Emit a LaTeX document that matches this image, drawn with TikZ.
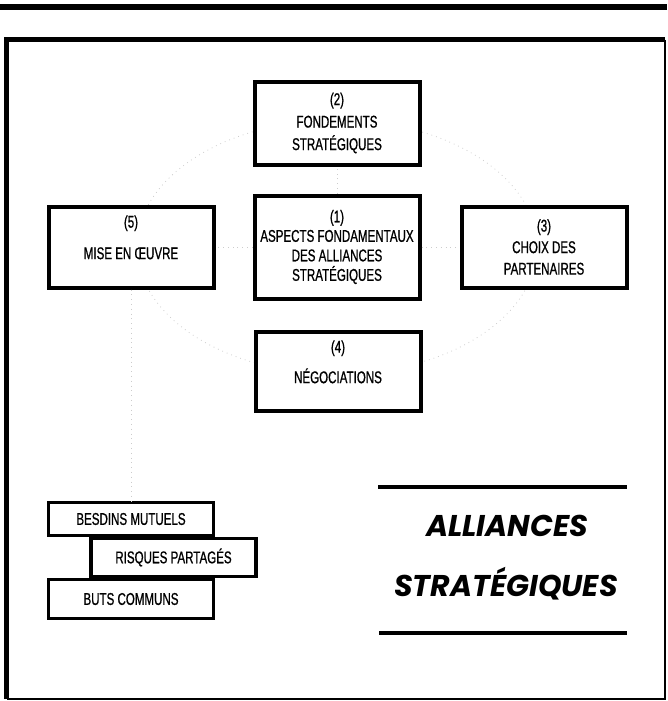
\documentclass[tikz,border=0pt]{standalone}
\usepackage{fontspec}
\setmainfont[FakeStretch=0.68, FakeBold=0.8]{Liberation Sans}
\newfontfamily\titrefont{Poppins}
\usetikzlibrary{positioning}

\begin{document}
\begin{tikzpicture}[x=1pt, y=-1pt, node distance=124pt,
        bloc/.style={draw, line width=4pt, fill=white, minimum width=165pt, minimum height=81pt,
                     align=center, inner sep=2pt, font=\fontsize{17}{21.5}\selectfont},
        brique/.style={draw, line width=3.5pt, fill=white, minimum width=165pt, inner sep=0pt,
                     font=\fontsize{17}{21}\selectfont},
        lien/.style={gray!40, line width=0.8pt, dash pattern=on 0.8pt off 4pt},
        titre/.style={anchor=base, font=\titrefont\bfseries\itshape\fontsize{30}{36}\selectfont},
        filet/.style={line width=4pt}]
    \useasboundingbox (0,0) rectangle (667,701);
    \draw[line width=6pt] (0,7) -- (667,7);
    \draw[line width=5pt] (6.5,699) -- (6.5,40) -- (665,40);
    \draw[line width=2pt] (665,40) -- (665,699) -- (6.5,699);

    \coordinate (c) at (337,247);
    \draw[lien] (c) ellipse [x radius=200pt, y radius=127pt];

    \node[bloc, minimum height=103pt, font=\fontsize{17}{19.5}\selectfont](b1) at (c)
        {(1)\\ASPECTS FONDAMENTAUX\\DES ALLIANCES\\STRATÉGIQUES};
    \node[bloc, above of=b1, minimum height=83pt, font=\fontsize{17}{22.5}\selectfont](b2)
        {(2)\\FONDEMENTS\\STRATÉGIQUES};
    \node[bloc, below of=b1, xshift=1pt, minimum height=79pt](b4){(4)\\[9pt]NÉGOCIATIONS\\[-3pt]};
    \node[bloc, right of=b1, node distance=207pt](b3){(3)\\CHOIX DES\\PARTENAIRES};
    \node[bloc, left of=b1, node distance=206pt](b5){(5)\\[10pt]MISE EN ŒUVRE\\[-2pt]};

    \node[brique, minimum height=33pt](besoins) at (131,519) {BESDINS MUTUELS};
    \node[brique, minimum height=38pt](risques) at (173.5,557.5) {RISQUES PARTAGÉS};
    \node[brique, minimum height=39pt](buts) at (131,599) {BUTS COMMUNS};

    \draw[lien] (b1) -- (b2);
    \draw[lien] (b1) -- (b3);
    \draw[lien] (b1) -- (b5);
    \draw[lien] (b5) -- (besoins);

    \draw[filet] (378,487) -- (627,487);
    \node[titre](t1) at (507,536) {ALLIANCES};
    \node[titre](t2) at (506,596) {STRATÉGIQUES};
    \draw[filet] (379,633) -- (627,633);
\end{tikzpicture}
\end{document}
